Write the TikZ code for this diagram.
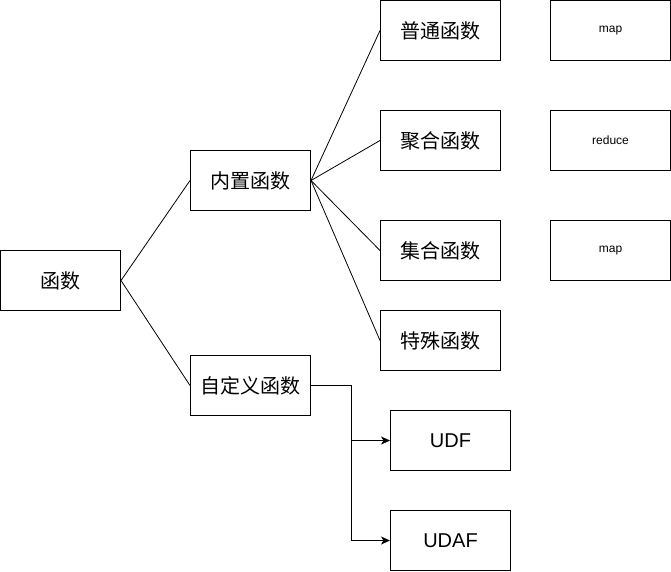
\documentclass[tikz,border=0pt]{standalone}
\usepackage{fontspec}
\setmainfont{Liberation Sans}
\newfontfamily\cjk{Noto Sans CJK SC}
\usetikzlibrary{arrows.meta}
\begin{document}
\begin{tikzpicture}[x=1pt,y=-1pt,
  box/.style={draw=black,line width=1pt,minimum width=120pt,minimum height=60pt,inner sep=0pt,fill=white},
  big/.style={font=\fontsize{20}{24}\selectfont},
  zh/.style={font=\cjk\fontsize{20}{24}\selectfont},
  small/.style={font=\fontsize{12}{14}\selectfont},
  link/.style={draw=black,line width=0.8pt},
  arr/.style={draw=black,line width=1pt,-{Stealth[length=9pt,width=8pt,inset=2.5pt]}}]
\useasboundingbox (0,0) rectangle (671,571);
\node[box,zh] (root) at (60.5,280.5) {函数};
\node[box,zh] (nz) at (250.5,180.5) {内置函数};
\node[box,zh] (zd) at (250.5,385.5) {自定义函数};
\node[box,zh] (pt) at (440.5,30.5) {普通函数};
\node[box,zh] (jh) at (440.5,140.5) {聚合函数};
\node[box,zh] (jj) at (440.5,250.5) {集合函数};
\node[box,zh] (ts) at (440.5,340.5) {特殊函数};
\node[box,small] (m1) at (610.5,30.5) {map};
\node[box,small] (rd) at (610.5,140.5) {reduce};
\node[box,small] (m2) at (610.5,250.5) {map};
\node[box,big] (udf) at (450.5,440.5) {UDF};
\node[box,big] (udaf) at (450.5,540.5) {UDAF};
\draw[link] (root.east) -- (nz.west);
\draw[link] (root.east) -- (zd.west);
\draw[link] (nz.east) -- (pt.west);
\draw[link] (nz.east) -- (jh.west);
\draw[link] (nz.east) -- (jj.west);
\draw[link] (nz.east) -- (ts.west);
\coordinate (bend) at ([xshift=40pt]zd.east);
\draw[arr] (zd.east) -- (bend) |- (udf.west);
\draw[arr] (zd.east) -- (bend) |- (udaf.west);
\end{tikzpicture}
\end{document}
